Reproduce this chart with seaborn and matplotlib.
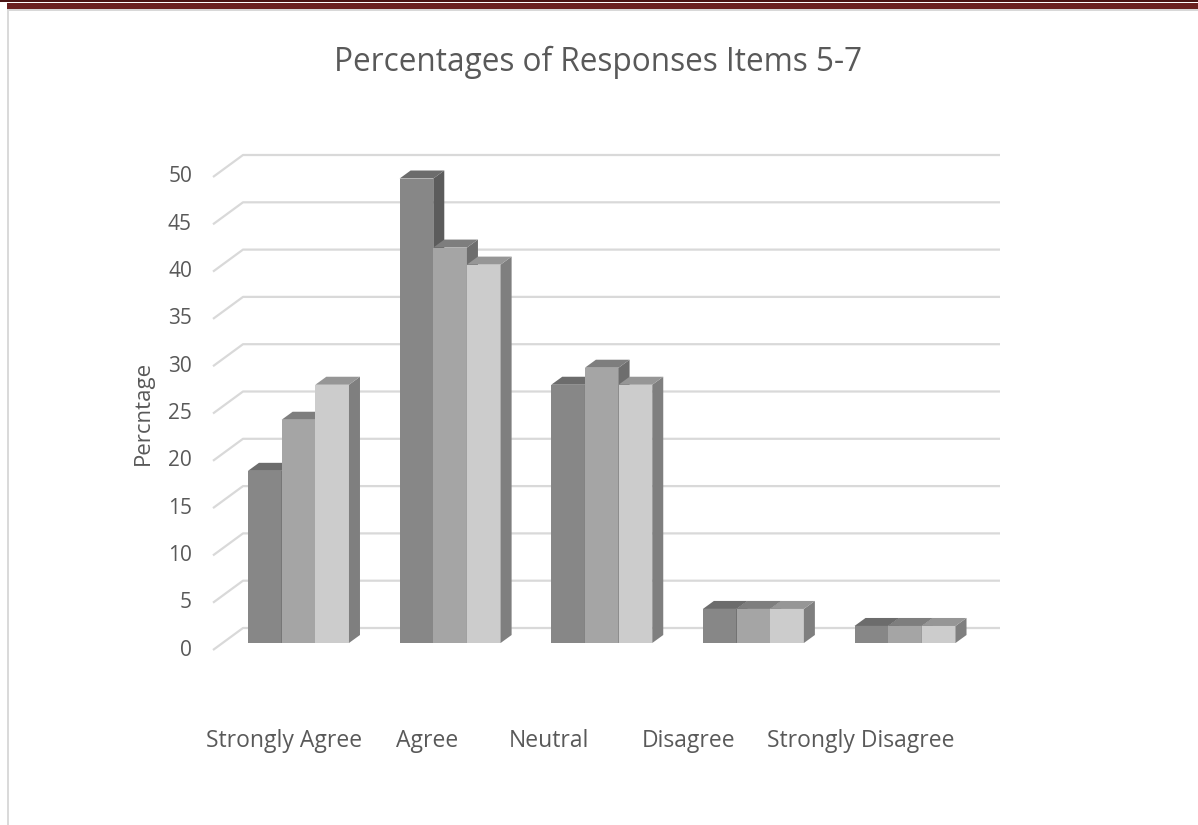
import matplotlib
matplotlib.use("Agg")
import matplotlib.pyplot as plt
from matplotlib.patches import Polygon, Rectangle
import pandas as pd
import seaborn as sns

# Survey responses (percent of respondents) for items 5, 6 and 7
categories = ["Strongly Agree", "Agree", "Neutral", "Disagree", "Strongly Disagree"]
items = ["Item 5", "Item 6", "Item 7"]
item5 = [18.2, 49.1, 27.3, 3.6, 1.8]
item6 = [23.6, 41.8, 29.1, 3.6, 1.8]
item7 = [27.3, 40.0, 27.3, 3.6, 1.8]
yticks = list(range(0, 51, 5))

title = "Percentages of Responses Items 5-7"
ylabel = "Percntage"

# face colours: front, top, side for each series
front_colors = ["#878787", "#a5a5a5", "#cccccc"]
top_colors = ["#6c6c6c", "#7e7e7e", "#969696"]
side_colors = ["#5c5c5c", "#6e6e6e", "#7f7f7f"]
text_color = "#595959"
grid_color = "#d9d9d9"

df = pd.DataFrame({
    "category": categories * 3,
    "item": [items[0]] * 5 + [items[1]] * 5 + [items[2]] * 5,
    "value": item5 + item6 + item7,
})

sns.set_theme(style="white")
plt.rcParams["font.family"] = ["Open Sans", "DejaVu Sans"]

W_PX, H_PX = 1198, 825
fig = plt.figure(figsize=(W_PX / 100, H_PX / 100), dpi=100)

# plot area: front plane of the bars
ax_left, ax_right, ax_base, ax_top = 207.5, 996.0, 643.0, 170.0
ax = fig.add_axes([ax_left / W_PX, (H_PX - ax_base) / H_PX,
                   (ax_right - ax_left) / W_PX, (ax_base - ax_top) / H_PX])

sns.barplot(data=df, x="category", y="value", hue="item", palette=front_colors,
            width=0.666, saturation=1, legend=False, linewidth=0, ax=ax)

XMIN, XMAX = -0.6, 4.6
ax.set_xlim(XMIN, XMAX)
ax.set_ylim(0, 50)
ppx = (ax_right - ax_left) / (XMAX - XMIN)   # pixels per x unit
ppy = (ax_base - ax_top) / 50.0              # pixels per y unit

def xpx(px):
    """x data coordinate of a horizontal pixel position"""
    return XMIN + (px - ax_left) / ppx

# back wall gridlines with their receding left ends
x_front, x_back, x_end = xpx(213), xpx(243), xpx(1000)
for v in yticks:
    ax.plot([x_front, x_back, x_end], [v - 7 / ppy, v + 15 / ppy, v + 15 / ppy],
            color=grid_color, lw=1.6, clip_on=False, zorder=1,
            solid_capstyle="butt")
    ax.text(xpx(192), v - 7 / ppy, str(v), ha="right", va="center",
            fontsize=15, color=text_color, clip_on=False)

# extruded top and side faces for each bar
dx, dy = 11 / ppx, 8 / ppy
bars = sorted(ax.patches, key=lambda p: p.get_x())
for k, bar in enumerate(bars):
    s = k % 3
    x0, w, h = bar.get_x(), bar.get_width(), bar.get_height()
    x1 = x0 + w
    bar.set_zorder(3 + 3 * k)
    side = Polygon([(x1, 0), (x1 + dx, dy), (x1 + dx, h + dy), (x1, h)],
                   closed=True, facecolor=side_colors[s], edgecolor="none",
                   zorder=4 + 3 * k, clip_on=False)
    top = Polygon([(x0, h), (x0 + dx, h + dy), (x1 + dx, h + dy), (x1, h)],
                  closed=True, facecolor=top_colors[s], edgecolor="none",
                  zorder=5 + 3 * k, clip_on=False)
    ax.add_patch(side)
    ax.add_patch(top)

# category labels
label_x = [xpx(284), xpx(427), xpx(549), xpx(689), xpx(861)]
for lx, name in zip(label_x, categories):
    ax.text(lx, -104 / ppy, name, ha="center", va="baseline",
            fontsize=16.5, color=text_color, clip_on=False)

ax.set_xticks([])
ax.set_yticks([])
ax.set_xlabel("")
ax.set_ylabel("")
for sp in ax.spines.values():
    sp.set_visible(False)
ax.patch.set_alpha(0)

fig.text(143 / W_PX, 1 - 413 / H_PX, ylabel, rotation=90, ha="center",
         va="center", fontsize=16, color=text_color)
fig.text(598 / W_PX, 1 - 62 / H_PX, title, ha="center", va="center",
         fontsize=22.7, color=text_color)

# page frame: dark rule, maroon band and light borders
fig.add_artist(Rectangle((0, 1 - 1.5 / H_PX), 1, 1.5 / H_PX,
                         transform=fig.transFigure, facecolor="#4a1414",
                         edgecolor="none"))
fig.add_artist(Rectangle((7 / W_PX, 1 - 9.5 / H_PX), 1, 6.5 / H_PX,
                         transform=fig.transFigure, facecolor="#6a2020",
                         edgecolor="none"))
fig.add_artist(Rectangle((7 / W_PX, 1 - 11 / H_PX), 1, 1.5 / H_PX,
                         transform=fig.transFigure, facecolor="#d8d8d8",
                         edgecolor="none"))
fig.add_artist(Rectangle((7 / W_PX, 0), 2 / W_PX, 1 - 10 / H_PX,
                         transform=fig.transFigure, facecolor="#dadada",
                         edgecolor="none"))

fig.savefig("out.png", dpi=100, facecolor="white")
